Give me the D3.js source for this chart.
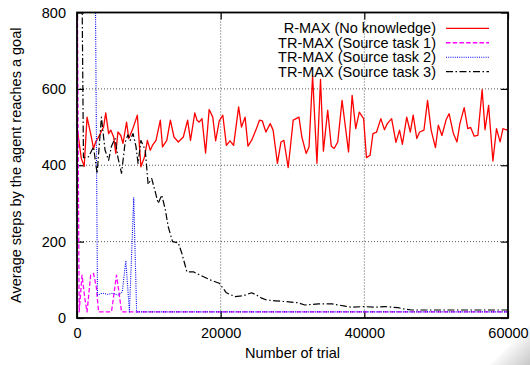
<!DOCTYPE html>
<meta charset="utf-8">
<style>
body { margin: 0; background: #fff; }
text { font-family: "Liberation Sans", Arial, sans-serif; font-size: 14.5px; fill: #000; }
</style>
<svg width="530" height="365"></svg>
<script src="https://d3js.org/d3.v7.min.js"></script>
<script>

// [trial, average steps]
var rmax = [[0,500],[600,418],[1000,397],[1400,526],[1900,483],[2300,444],[2600,461],[2900,470],[3700,500],[4000,537],
  [4400,483],[4700,492],[5100,474],[5400,431],[5700,487],[6100,478],[6400,457],[6900,513],[7200,470],[7700,492],
  [8400,531],[8900,396],[9400,422],[9800,465],[10200,439],[10500,452],[11000,465],[11600,518],[11900,448],[12500,465],
  [13000,518],[13500,474],[14100,461],[14800,474],[15400,518],[15800,465],[16400,537],[16700,518],[17000,513],[17400,522],
  [17900,432],[18400,546],[18900,526],[19300,464],[19800,516],[20300,531],[20800,452],[21300,464],[21800,452],[22500,553],
  [22900,500],[23400,526],[23800,450],[24300,465],[24900,492],[25400,518],[25800,516],[26300,487],[26900,509],[27300,492],
  [27900,405],[28400,461],[28800,465],[29400,394],[30100,518],[30500,522],[30900,526],[31300,474],[31900,431],[32300,448],
  [32800,635],[33400,405],[33900,625],[34300,437],[34900,544],[35400,450],[35800,444],[36300,461],[36900,570],[37800,435],
  [38300,583],[38800,496],[39300,539],[39900,522],[40300,420],[40800,426],[41200,483],[41700,487],[42300,522],[42800,493],
  [43200,509],[43800,522],[44400,460],[44900,492],[45300,455],[45900,526],[46400,487],[46800,531],[47300,470],[47700,487],
  [48300,492],[48800,570],[49300,492],[49900,446],[50300,505],[50800,478],[51400,520],[51800,535],[52400,483],[52900,461],
  [53300,509],[53900,551],[54400,496],[54800,499],[55300,476],[55800,478],[56400,598],[56800,493],[57300,557],[57900,411],
  [58400,496],[58900,461],[59300,496],[59700,493],[60000,493]];

var source1 = [[0,1000],[300,16],[700,112],[1100,50],[1400,16],[1900,112],[2300,117],[2700,80],[3000,16],[4800,16],
  [5500,112],[5900,60],[6200,16],[20000,16],[40000,16],[60000,16]];

var source2 = [[0,1500],[2500,1020],[2850,60],[3500,65],[4300,62],[5000,65],[5700,60],[6300,68],[6800,150],[7300,16],
  [7900,315],[8300,16],[20000,16],[40000,16],[60000,16]];

var source3 = [[0,1600],[500,1300],[900,420],[1600,422],[2300,448],[2800,378],[3400,526],[3900,440],[4400,413],[4800,450],
  [5300,470],[5700,420],[6200,379],[6700,460],[7100,480],[7400,465],[7800,483],[8200,450],[8500,405],[8900,465],
  [9500,440],[9900,350],[10400,365],[10900,330],[11300,300],[11800,322],[12300,283],[12700,239],[13300,200],[14100,197],
  [14600,169],[15300,121],[16200,121],[17400,110],[18500,100],[19800,91],[20800,66],[22000,56],[23100,58],[24300,66],
  [25000,60],[25700,52],[26400,47],[27600,45],[29000,43],[30800,40],[31700,34],[33600,37],[35500,37],[37300,31],
  [38200,28],[39900,30],[41500,28],[42900,30],[44700,27],[45700,23],[46600,21],[49400,21],[54000,21],[58600,21],[60000,21]];

var seriesNames = ["R-MAX (No knowledge)", "TR-MAX (Source task 1)", "TR-MAX (Source task 2)", "TR-MAX (Source task 3)"];
var xTicks = [0, 20000, 40000, 60000];
var yTicks = [0, 200, 400, 600, 800];

var series = [
  {name: seriesNames[0], data: rmax,    color: "#ff0000", dash: null,        width: 1.3},
  {name: seriesNames[1], data: source1, color: "#ff00ff", dash: "4.5,2.2",   width: 1.3},
  {name: seriesNames[2], data: source2, color: "#0000ff", dash: "1,1.2",     width: 1.1},
  {name: seriesNames[3], data: source3, color: "#000000", dash: "7,2.5,1.5,2.5", width: 1.2}
];

var svg = d3.select("svg");
var plotL = 77, plotR = 508, plotT = 12.5, plotB = 318;

var x = d3.scaleLinear().domain([0, 60000]).range([plotL, plotR]);
var y = d3.scaleLinear().domain([0, 800]).range([plotB, plotT]);

// page curl shadow in the corner
var defs = svg.append("defs");
var grad = defs.append("linearGradient")
    .attr("id", "curl").attr("x1", 0).attr("y1", 0).attr("x2", 1).attr("y2", 1);
grad.append("stop").attr("offset", "0.45").attr("stop-color", "#fff");
grad.append("stop").attr("offset", "1").attr("stop-color", "#c8c8c8");
svg.append("polygon").attr("points", "530,325 530,365 490,365").attr("fill", "url(#curl)");

defs.append("clipPath").attr("id", "plot")
  .append("rect").attr("x", plotL).attr("y", plotT).attr("width", plotR - plotL).attr("height", plotB - plotT);

// dotted grid
var grid = svg.append("g").attr("stroke", "#555").attr("stroke-width", 1).attr("stroke-dasharray", "1,2");
grid.selectAll(".gy").data(yTicks.slice(1, -1)).enter().append("line")
    .attr("x1", plotL).attr("x2", plotR).attr("y1", d => y(d)).attr("y2", d => y(d));
grid.selectAll(".gx").data(xTicks.slice(1, -1)).enter().append("line")
    .attr("y1", plotT).attr("y2", plotB).attr("x1", d => x(d)).attr("x2", d => x(d));

// axes with inward ticks, mirrored
function style(g) {
  g.select(".domain").remove();
  g.selectAll(".tick line").attr("stroke", "#000").attr("stroke-width", 1.2);
  g.selectAll(".tick text").style("font-size", "14.5px").style("font-family", "Liberation Sans, Arial, sans-serif").attr("fill", "#000");
}
svg.append("g").attr("transform", "translate(" + plotL + ",0)")
  .call(d3.axisLeft(y).tickValues(yTicks).tickSize(-7).tickPadding(11)).call(style);
svg.append("g").attr("transform", "translate(" + plotR + ",0)")
  .call(d3.axisRight(y).tickValues(yTicks).tickSize(-7).tickFormat("")).call(style);
svg.append("g").attr("transform", "translate(0," + plotB + ")")
  .call(d3.axisBottom(x).tickValues(xTicks).tickSize(-7).tickPadding(10).tickFormat(d3.format("d"))).call(style);
svg.append("g").attr("transform", "translate(0," + plotT + ")")
  .call(d3.axisTop(x).tickValues(xTicks).tickSize(-7).tickFormat("")).call(style);

// lines
var line = d3.line().x(d => x(d[0])).y(d => y(d[1]));
var plot = svg.append("g").attr("clip-path", "url(#plot)");
plot.selectAll("path").data(series).enter().append("path")
    .attr("d", d => line(d.data))
    .attr("fill", "none")
    .attr("stroke", d => d.color)
    .attr("stroke-width", d => d.width)
    .attr("stroke-dasharray", d => d.dash)
    .attr("stroke-linejoin", "round");

// border
svg.append("rect").attr("x", plotL).attr("y", plotT).attr("width", plotR - plotL).attr("height", plotB - plotT)
    .attr("fill", "none").attr("stroke", "#000").attr("stroke-width", 1.8);

// legend
var legend = svg.append("g");
var row = legend.selectAll("g").data(series).enter().append("g")
    .attr("transform", (d, i) => "translate(0," + (28.3 + i * 14.45) + ")");
row.append("text").attr("x", 436).attr("dy", "0.35em").attr("text-anchor", "end").text(d => d.name);
row.append("line").attr("x1", 446).attr("x2", 489)
    .attr("stroke", d => d.color).attr("stroke-width", d => d.width).attr("stroke-dasharray", d => d.dash);

// titles
svg.append("text").attr("x", (plotL + plotR) / 2).attr("y", 358).attr("text-anchor", "middle").text("Number of trial");
svg.append("text").attr("transform", "translate(21," + ((plotT + plotB) / 2) + ") rotate(-90)")
    .attr("text-anchor", "middle").text("Average steps by the agent reaches a goal");

</script>
